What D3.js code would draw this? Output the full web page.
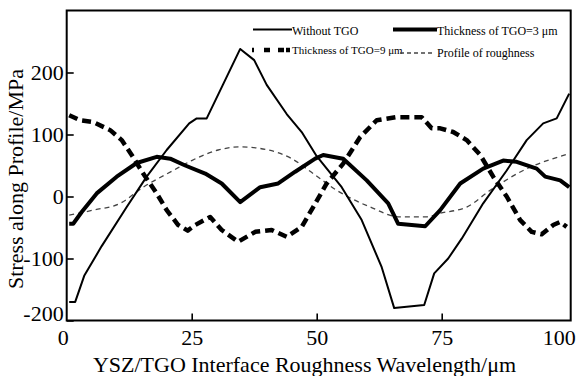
<!DOCTYPE html>
<html>
<head>
<meta charset="utf-8">
<script src="https://cdn.jsdelivr.net/npm/d3@7"></script>
<style>
  body { margin: 0; background: #fff; }
  svg text { font-family: "Liberation Serif", "Times New Roman", serif; fill: #000; }
</style>
</head>
<body>
<div id="chart"></div>
<script>
// Without TGO
const xNoTGO = [0.5, 1.7, 3.5, 7, 12, 16, 20, 24.5, 26, 28, 34.7, 37.5, 40, 44, 47, 50, 55, 59, 63, 65.5, 71.5, 73.5, 76.3, 79, 83.3, 88, 92, 95.3, 98, 100.5];
const yNoTGO = [-170, -170, -128, -80, -17, 32, 75, 118, 126, 126, 238, 220, 180, 133, 104, 65, 15, -38, -114, -180, -175, -124, -100, -68, -11, 42, 91, 118, 126, 166];

// Thickness of TGO = 3 um
const xTGO3 = [0.5, 1.3, 3, 6, 10, 14, 18, 20.7, 23.7, 27.7, 31, 34.7, 38.7, 42.3, 45.7, 49.7, 51.3, 55.3, 60, 64.3, 66.3, 71.7, 74.7, 78.7, 83.3, 87.3, 90, 94, 95.7, 98.7, 100.5];
const yTGO3 = [-44, -44, -25, 5, 32, 54, 64, 61, 50, 37, 21, -9, 15, 21, 40, 61, 67, 61, 26, -11, -44, -48, -22, 21, 45, 58, 56, 45, 32, 26, 15];

// Thickness of TGO = 9 um
const xTGO9 = [0.5, 2.7, 5.3, 8.7, 11, 13, 15.3, 18, 20, 22.3, 24.2, 25.7, 28.7, 31, 34.3, 37.7, 41, 44, 47, 49.3, 52, 55.3, 58.7, 62, 66, 71, 73, 74.7, 77.3, 80, 82.7, 85.3, 88, 90.7, 93, 95, 97.3, 98.7, 100];
const yTGO9 = [131, 123, 120, 107, 91, 67, 37, 5, -22, -46, -55, -46, -33, -54, -73, -57, -54, -65, -49, -17, 21, 53, 96, 123, 128, 128, 110, 110, 104, 91, 67, 32, 0, -38, -57, -61, -46, -41, -49];

// Profile of roughness
const xRough = [0.5, 5.3, 10.7, 15.3, 21.3, 25, 30.3, 34.7, 40.3, 45, 49.3, 54, 60.7, 66.7, 71.7, 74.7, 80, 84.7, 91.3, 100.5];
const yRough = [-30, -22, -11, 15, 42, 58, 75, 80, 75, 61, 37, 10, -17, -33, -33, -27, -17, 10, 42, 69];

const xTicks = [0, 25, 50, 75, 100];
const yTicks = [-200, -100, 0, 100, 200];

const W = 577, H = 376;
const plotL = 66.7, plotR = 570.7, plotT = 10.5, plotB = 320.5;
const serif = "'Liberation Serif', 'Times New Roman', serif";

const svg = d3.select("#chart").append("svg")
    .attr("width", W)
    .attr("height", H);

const x = d3.scaleLinear().domain([0, 100.8]).range([plotL, plotR]);
const y = d3.scaleLinear().domain([-200, 300]).range([plotB, plotT]);

// axes, ticks pointing inward
const gx = svg.append("g")
    .attr("transform", `translate(0,${plotB})`)
    .call(d3.axisBottom(x).tickValues(xTicks).tickSizeInner(-7).tickSizeOuter(0).tickFormat(d => String(d)))
    .attr("font-family", serif)
    .attr("font-size", 22);
gx.select(".domain").remove();
gx.selectAll(".tick line").attr("stroke-width", 1.6);
gx.selectAll(".tick text")
    .attr("y", 24.5).attr("dy", 0)
    .style("font-family", serif)
    .style("font-size", "22px")
    .attr("dx", d => d === 0 ? -4 : d === 100 ? -8 : 0);
gx.selectAll(".tick").filter(d => d === 0 || d === 100).select("line").remove();

const gy = svg.append("g")
    .attr("transform", `translate(${plotL},0)`)
    .call(d3.axisLeft(y).tickValues(yTicks).tickSizeInner(-7).tickSizeOuter(0).tickPadding(3).tickFormat(d => String(d)))
    .attr("font-family", serif)
    .attr("font-size", 22);
gy.select(".domain").remove();
gy.selectAll(".tick line").attr("stroke-width", 1.6);
gy.selectAll(".tick text")
    .style("font-family", serif)
    .style("font-size", "22px")
    .attr("dy", d => d === -200 ? "0.02em" : "0.32em");

// frame
svg.append("rect")
    .attr("x", plotL).attr("y", plotT)
    .attr("width", plotR - plotL).attr("height", plotB - plotT)
    .attr("fill", "none")
    .attr("stroke", "#000")
    .attr("stroke-width", 2);

const line = d3.line().x(d => x(d[0])).y(d => y(d[1]));
const smooth = d3.line().x(d => x(d[0])).y(d => y(d[1])).curve(d3.curveMonotoneX);

const series = [
    { xs: xRough, ys: yRough, gen: smooth, width: 1.3, dash: "5,4", color: "#444" },
    { xs: xNoTGO, ys: yNoTGO, gen: line, width: 2, dash: null, color: "#000" },
    { xs: xTGO9, ys: yTGO9, gen: line, width: 4.5, dash: "9,5", color: "#000" },
    { xs: xTGO3, ys: yTGO3, gen: line, width: 4, dash: null, color: "#000" }
];

series.forEach(s => {
    svg.append("path")
        .datum(s.xs.map((v, i) => [v, s.ys[i]]))
        .attr("fill", "none")
        .attr("stroke", s.color)
        .attr("stroke-width", s.width)
        .attr("stroke-dasharray", s.dash)
        .attr("stroke-linejoin", "round")
        .attr("d", s.gen);
});

// legend
const legend = [
    { x1: 253, x2: 292, ly: 29.5, tx: 292, ty: 34.5, size: 12, label: "Without TGO", width: 2, dash: null, color: "#000" },
    { x1: 393, x2: 437, ly: 29.5, tx: 437, ty: 35, size: 12, label: "Thickness of TGO=3 μm", width: 4, dash: null, color: "#000" },
    { x1: 252, x2: 290, ly: 50, tx: 292, ty: 54, size: 11, label: "Thickness of TGO=9 μm", width: 4.5, dash: "2,10,6,8,6", color: "#000" },
    { x1: 400, x2: 435, ly: 53, tx: 437, ty: 56.5, size: 12, label: "Profile of roughness", width: 1.3, dash: "4,3", color: "#444" }
];

const lg = svg.append("g");
legend.forEach(l => {
    lg.append("line")
        .attr("x1", l.x1).attr("x2", l.x2)
        .attr("y1", l.ly).attr("y2", l.ly)
        .attr("stroke", l.color)
        .attr("stroke-width", l.width)
        .attr("stroke-dasharray", l.dash);
    lg.append("text")
        .attr("x", l.tx).attr("y", l.ty)
        .style("font-family", serif)
        .style("font-size", l.size + "px")
        .text(l.label);
});

// axis titles
svg.append("text")
    .attr("x", 304.5).attr("y", 372)
    .attr("text-anchor", "middle")
    .style("font-family", serif)
    .style("font-size", "22px")
    .text("YSZ/TGO Interface Roughness Wavelength/μm");

svg.append("text")
    .attr("transform", "translate(23,179) rotate(-90)")
    .attr("text-anchor", "middle")
    .style("font-family", serif)
    .style("font-size", "22px")
    .text("Stress along Profile/MPa");
</script>
</body>
</html>
